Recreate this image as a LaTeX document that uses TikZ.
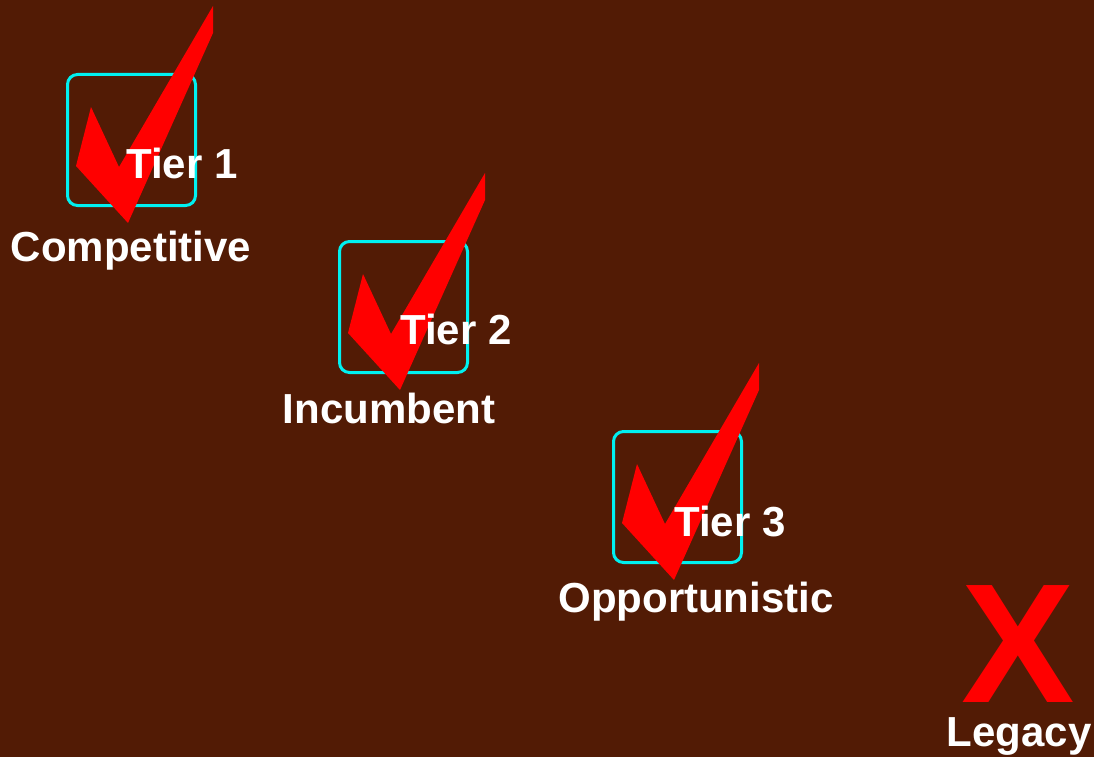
\documentclass[tikz,border=0pt]{standalone}
\usepackage{fontspec}
\setmainfont{Liberation Sans}
\definecolor{bgbrown}{RGB}{82,27,5}
\definecolor{boxcyan}{RGB}{0,240,240}
\definecolor{tickred}{RGB}{255,0,0}
\begin{document}
\begin{tikzpicture}[x=1pt,y=-1pt,
  tierbox/.style={draw=boxcyan, line width=3pt, rounded corners=10pt,
    minimum width=128pt, minimum height=131pt, inner sep=0pt, outer sep=0pt, anchor=north west},
  lbl/.style={text=white, font=\bfseries\fontsize{42}{48}\selectfont, inner sep=0pt, anchor=base},
  crossmark/.style={text=tickred, font=\bfseries\fontsize{170}{180}\selectfont, inner sep=0pt,
    text height=122pt, text depth=0pt, anchor=base},
  checkpic/.pic={\fill[tickred] (145.5,-68.5) -- (145.5,-41.5) -- (60.5,148.5) -- (8.5,91.5) -- (23.5,32.5) -- (51.5,92.5) -- cycle;}]
\useasboundingbox (0,0) rectangle (1094,757);
\fill[bgbrown] (0,0) rectangle (1094,757);
% tier 1
\node[tierbox] (b1) at (67.5,74.5) {};
\pic at (b1.north west) {checkpic};
\node[lbl] (t1) at (182,178) {Tier 1};
\node[lbl] (c1) at (131,261) {Competitive};
% tier 2
\node[tierbox] (b2) at (339.5,241.5) {};
\pic at (b2.north west) {checkpic};
\node[lbl] (t2) at (456,344) {Tier 2};
\node[lbl] (c2) at (389,423) {Incumbent};
% tier 3
\node[tierbox] (b3) at (613.5,431.5) {};
\pic at (b3.north west) {checkpic};
\node[lbl] (t3) at (730,536) {Tier 3};
\node[lbl] (c3) at (696,612) {Opportunistic};
% legacy
\node[crossmark] (x4) at (1018,702) {X};
\node[lbl] (c4) at (1019,746) {Legacy};
\end{tikzpicture}
\end{document}
